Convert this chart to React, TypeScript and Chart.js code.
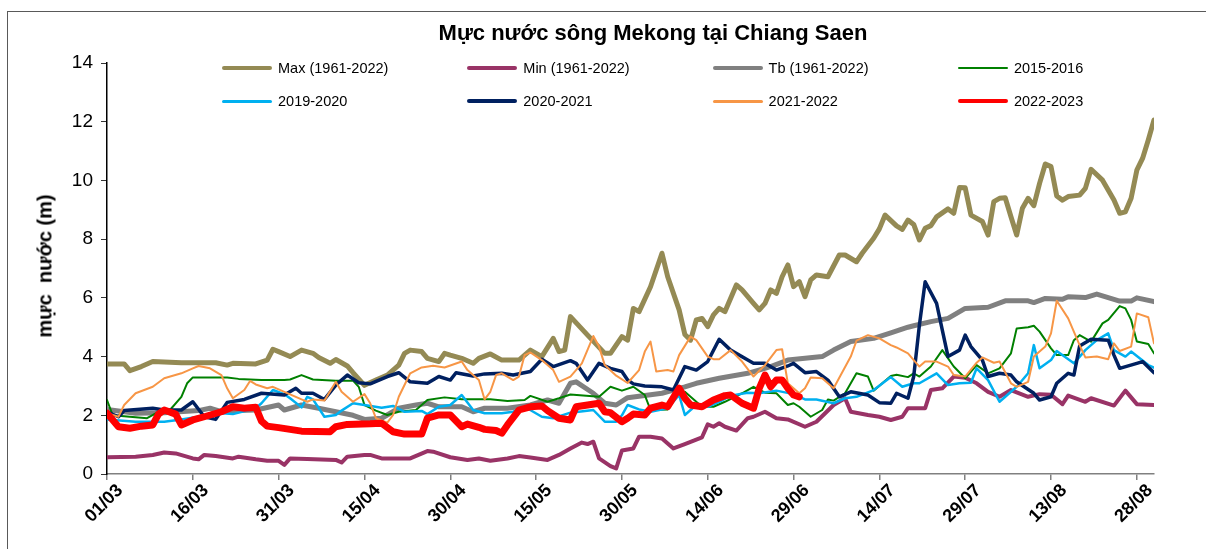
import React, { useEffect, useRef } from 'react';
import { Chart, registerables } from 'chart.js';

Chart.register(...registerables);

// x = day index counted from 01/03 (0 = 01/03, 183 = 31/08)
const tickLabels = ['01/03', '16/03', '31/03', '15/04', '30/04', '15/05', '30/05', '14/06', '29/06', '14/07', '29/07', '13/08', '28/08'];

const seriesNames = ['Max (1961-2022)', 'Min (1961-2022)', 'Tb (1961-2022)', '2015-2016', '2019-2020', '2020-2021', '2021-2022', '2022-2023'];
const seriesColors = ['#948A54', '#993366', '#808080', '#008000', '#00B0F0', '#002060', '#F79646', '#FF0000'];
const seriesWidths = [5, 4, 5, 2, 2.5, 3.5, 2, 7];
const legendWidths = [4, 4, 4, 2, 3, 4, 3, 4];

const maxDays = [0, 3, 4, 6, 8, 13, 19, 21, 22, 26, 28, 29, 30, 32, 34, 36, 37, 39, 40, 42, 43, 45, 47, 49, 51, 52, 53, 55, 56, 58, 59, 60, 62, 64, 65, 67, 69, 72, 74, 76, 78, 79, 80, 81, 84, 87, 88, 90, 91, 92, 93, 95, 97, 98, 100, 101, 102, 103, 104, 105, 106, 107, 108, 110, 111, 113, 114, 115, 116, 117, 118, 119, 120, 121, 122, 123, 124, 126, 128, 129, 131, 132, 134, 135, 136, 138, 139, 140, 141, 142, 143, 144, 145, 147, 148, 149, 150, 151, 153, 154, 155, 156, 157, 158, 159, 160, 161, 162, 163, 164, 165, 166, 167, 168, 170, 171, 172, 174, 176, 177, 178, 179, 180, 181, 182, 183];
const maxVals = [3.75, 3.75, 3.52, 3.66, 3.83, 3.79, 3.79, 3.71, 3.77, 3.75, 3.88, 4.25, 4.17, 4.0, 4.22, 4.11, 3.97, 3.77, 3.9, 3.68, 3.45, 3.02, 3.2, 3.37, 3.71, 4.11, 4.22, 4.17, 3.94, 3.83, 4.11, 4.05, 3.94, 3.77, 3.94, 4.09, 3.88, 3.88, 4.22, 4.0, 4.62, 4.17, 4.22, 5.36, 4.73, 4.11, 4.11, 4.68, 4.56, 5.64, 5.53, 6.38, 7.52, 6.72, 5.59, 4.75, 4.56, 5.25, 5.3, 5.02, 5.42, 5.64, 5.53, 6.44, 6.27, 5.81, 5.59, 5.81, 6.27, 6.15, 6.72, 7.12, 6.38, 6.55, 6.04, 6.61, 6.78, 6.72, 7.46, 7.46, 7.23, 7.52, 8.03, 8.35, 8.82, 8.45, 8.33, 8.65, 8.5, 7.97, 8.37, 8.46, 8.76, 9.03, 8.88, 9.76, 9.75, 8.82, 8.6, 8.14, 9.28, 9.39, 9.41, 8.76, 8.14, 9.05, 9.39, 9.14, 9.9, 10.56, 10.47, 9.47, 9.33, 9.45, 9.5, 9.73, 10.38, 10.01, 9.33, 8.88, 8.93, 9.39, 10.35, 10.75, 11.38, 12.06];

const minDays = [0, 5, 8, 10, 12, 15, 16, 17, 19, 22, 23, 26, 28, 30, 31, 32, 35, 40, 41, 42, 45, 46, 48, 53, 56, 57, 60, 63, 65, 67, 70, 72, 74, 77, 79, 81, 83, 84, 85, 86, 88, 89, 90, 92, 93, 95, 97, 99, 101, 104, 105, 106, 107, 108, 110, 112, 113, 115, 117, 119, 122, 124, 127, 129, 130, 133, 135, 137, 139, 140, 143, 144, 146, 148, 150, 152, 154, 156, 158, 161, 163, 165, 167, 168, 171, 172, 176, 178, 180, 183];
const minVals = [0.57, 0.59, 0.65, 0.73, 0.7, 0.53, 0.5, 0.65, 0.61, 0.53, 0.59, 0.5, 0.45, 0.45, 0.31, 0.53, 0.51, 0.48, 0.39, 0.59, 0.65, 0.65, 0.53, 0.53, 0.78, 0.76, 0.57, 0.48, 0.53, 0.45, 0.53, 0.61, 0.56, 0.48, 0.65, 0.87, 1.07, 1.02, 1.1, 0.53, 0.27, 0.19, 0.8, 0.87, 1.27, 1.27, 1.21, 0.87, 1.02, 1.25, 1.69, 1.61, 1.73, 1.61, 1.48, 1.9, 1.95, 2.12, 1.9, 1.86, 1.61, 1.78, 2.35, 2.58, 2.12, 2.01, 1.95, 1.84, 1.95, 2.24, 2.24, 2.86, 2.92, 3.32, 3.28, 3.09, 2.8, 2.63, 2.86, 2.63, 2.72, 2.7, 2.38, 2.67, 2.46, 2.58, 2.33, 2.84, 2.38, 2.35];

const tbDays = [0, 5, 10, 16, 18, 20, 23, 26, 30, 31, 34, 37, 40, 43, 45, 48, 51, 54, 56, 58, 62, 64, 66, 70, 74, 77, 79, 81, 82, 85, 87, 89, 91, 93, 97, 101, 103, 107, 112, 116, 119, 125, 127, 130, 134, 137, 140, 141, 144, 147, 150, 154, 157, 161, 162, 164, 167, 168, 171, 173, 177, 179, 180, 183];
const tbVals = [2.2, 2.07, 2.09, 2.16, 2.24, 2.12, 2.16, 2.18, 2.35, 2.18, 2.35, 2.24, 2.12, 2.0, 1.86, 1.9, 2.24, 2.35, 2.41, 2.29, 2.29, 2.12, 2.24, 2.24, 2.35, 2.52, 2.41, 3.09, 3.14, 2.75, 2.41, 2.35, 2.6, 2.65, 2.75, 2.97, 3.09, 3.26, 3.43, 3.66, 3.88, 4.0, 4.22, 4.51, 4.62, 4.81, 5.0, 5.05, 5.19, 5.3, 5.64, 5.68, 5.9, 5.9, 5.84, 5.98, 5.95, 6.04, 6.01, 6.13, 5.89, 5.89, 6.0, 5.87];

const y2015Days = [0, 1, 5, 7, 9, 11, 13, 14, 15, 21, 23, 27, 31, 32, 34, 36, 40, 43, 44, 45, 47, 49, 51, 54, 56, 59, 62, 67, 70, 73, 74, 77, 79, 81, 86, 88, 90, 92, 94, 95, 98, 100, 101, 104, 106, 108, 111, 113, 115, 117, 119, 120, 121, 123, 125, 126, 127, 129, 131, 133, 134, 137, 138, 140, 141, 142, 144, 146, 148, 150, 152, 154, 156, 158, 159, 161, 162, 163, 165, 166, 168, 169, 170, 172, 174, 175, 177, 178, 179, 180, 182, 183];
const y2015Vals = [2.52, 2.0, 1.93, 1.9, 2.12, 2.18, 2.63, 3.09, 3.29, 3.29, 3.24, 3.2, 3.2, 3.22, 3.37, 3.22, 3.18, 3.18, 2.97, 2.35, 2.16, 2.01, 2.12, 2.18, 2.52, 2.61, 2.55, 2.55, 2.49, 2.52, 2.66, 2.46, 2.58, 2.71, 2.63, 2.97, 2.84, 2.97, 2.69, 2.18, 2.2, 2.75, 2.8, 2.29, 2.29, 2.46, 2.75, 2.97, 2.77, 2.75, 2.35, 2.41, 2.29, 1.95, 2.18, 2.54, 2.5, 2.75, 3.43, 3.32, 2.84, 3.34, 3.38, 3.3, 3.43, 3.32, 3.66, 4.22, 3.66, 3.26, 3.71, 3.43, 3.6, 4.11, 4.96, 5.0, 5.05, 4.85, 4.28, 4.05, 4.05, 4.56, 4.73, 4.51, 5.13, 5.25, 5.72, 5.64, 5.25, 4.51, 4.43, 4.11];

const y2019Days = [0, 5, 10, 13, 16, 19, 22, 26, 27, 29, 31, 32, 34, 35, 36, 38, 40, 41, 43, 45, 48, 50, 52, 55, 56, 58, 60, 62, 64, 66, 69, 71, 73, 76, 78, 81, 85, 87, 89, 90, 91, 93, 95, 98, 100, 101, 103, 105, 107, 109, 112, 114, 117, 120, 122, 124, 127, 129, 131, 134, 137, 139, 141, 142, 145, 147, 149, 151, 152, 154, 156, 159, 161, 162, 163, 165, 166, 169, 171, 173, 175, 176, 178, 179, 182, 183];
const y2019Vals = [1.86, 1.78, 1.78, 1.86, 1.95, 2.09, 2.04, 2.24, 2.41, 2.86, 2.72, 2.58, 2.27, 2.63, 2.54, 1.95, 2.01, 2.16, 2.41, 2.35, 2.26, 2.32, 2.12, 2.15, 2.04, 2.29, 2.35, 2.69, 2.18, 2.07, 2.07, 2.12, 2.29, 1.95, 1.9, 2.09, 2.18, 1.78, 1.78, 2.0, 2.35, 2.2, 2.12, 2.24, 2.69, 2.01, 2.35, 2.29, 2.46, 2.67, 2.77, 2.75, 2.84, 2.72, 2.54, 2.54, 2.41, 2.58, 2.63, 2.86, 3.3, 2.97, 3.09, 3.09, 3.43, 3.03, 3.09, 3.11, 3.6, 3.2, 2.46, 2.97, 3.43, 4.39, 3.6, 3.88, 4.19, 3.77, 4.22, 4.56, 4.79, 4.22, 4.0, 4.17, 3.71, 3.62];

const y2020Days = [0, 2, 3, 8, 10, 13, 15, 17, 19, 21, 24, 27, 31, 33, 34, 36, 38, 40, 42, 44, 46, 49, 51, 53, 56, 58, 60, 61, 64, 66, 69, 71, 74, 76, 78, 81, 82, 84, 86, 88, 90, 91, 92, 94, 97, 99, 101, 103, 105, 107, 109, 112, 113, 115, 117, 119, 120, 122, 124, 126, 128, 130, 133, 135, 137, 138, 140, 141, 142, 143, 145, 146, 147, 149, 150, 151, 153, 154, 156, 158, 159, 162, 163, 165, 166, 168, 169, 170, 172, 175, 176, 177, 180, 181, 183];
const y2020Vals = [2.12, 1.95, 2.16, 2.24, 2.18, 2.18, 2.46, 1.95, 1.86, 2.44, 2.54, 2.75, 2.69, 2.92, 2.75, 2.75, 2.54, 3.03, 3.37, 3.11, 3.07, 3.32, 3.45, 3.14, 3.09, 3.32, 3.2, 3.45, 3.34, 3.41, 3.43, 3.37, 3.49, 3.91, 3.66, 3.86, 3.77, 3.2, 3.77, 3.6, 3.49, 3.2, 3.07, 3.0, 2.97, 2.86, 3.66, 3.54, 3.83, 4.59, 4.22, 3.88, 3.77, 3.77, 3.54, 3.68, 3.77, 3.45, 3.49, 3.2, 2.63, 2.8, 2.69, 2.43, 2.41, 2.75, 2.58, 3.32, 5.08, 6.55, 5.81, 4.9, 4.0, 4.22, 4.73, 4.34, 3.88, 3.32, 3.43, 3.37, 3.14, 2.75, 2.52, 2.63, 3.09, 3.43, 3.37, 4.36, 4.59, 4.56, 4.05, 3.6, 3.77, 3.83, 3.45];

const y2021Days = [0, 2, 3, 5, 8, 10, 13, 15, 16, 18, 20, 21, 22, 24, 25, 26, 28, 29, 31, 34, 35, 36, 38, 40, 41, 43, 45, 46, 47, 49, 50, 51, 53, 55, 57, 59, 62, 63, 65, 66, 67, 68, 69, 71, 72, 73, 74, 76, 78, 79, 81, 83, 85, 86, 87, 89, 91, 93, 94, 95, 96, 98, 99, 100, 102, 103, 105, 106, 107, 109, 111, 113, 115, 117, 118, 119, 121, 122, 123, 125, 127, 130, 131, 133, 135, 137, 138, 140, 141, 142, 143, 145, 147, 148, 150, 152, 153, 155, 156, 158, 159, 161, 162, 164, 165, 166, 168, 170, 171, 173, 175, 176, 177, 179, 180, 182, 183];
const y2021Vals = [2.07, 1.95, 2.35, 2.75, 2.97, 3.26, 3.43, 3.6, 3.68, 3.6, 3.37, 2.92, 2.58, 2.86, 3.17, 3.05, 2.92, 2.97, 2.8, 2.54, 2.46, 2.54, 2.5, 3.14, 2.8, 2.46, 2.72, 2.41, 1.9, 1.75, 2.01, 2.63, 3.43, 3.63, 3.69, 3.63, 3.83, 3.54, 3.2, 2.54, 2.8, 3.37, 3.43, 3.2, 3.32, 4.05, 4.14, 3.88, 3.54, 3.14, 3.32, 3.77, 4.7, 4.34, 3.71, 3.35, 3.1, 3.54, 4.17, 4.51, 3.49, 3.54, 3.49, 4.05, 4.68, 4.56, 4.0, 3.91, 3.91, 4.22, 3.83, 3.32, 3.71, 4.22, 4.25, 3.09, 2.75, 2.92, 3.29, 3.26, 2.92, 4.0, 4.54, 4.73, 4.62, 4.39, 4.31, 4.11, 3.88, 3.66, 3.83, 3.83, 3.66, 3.37, 3.32, 3.79, 3.97, 3.79, 3.83, 3.09, 2.97, 3.14, 4.0, 4.34, 4.79, 5.9, 5.3, 4.39, 3.97, 4.0, 3.91, 4.45, 4.19, 4.34, 5.47, 5.34, 4.45];

const y2022Days = [0, 1, 2, 4, 6, 8, 9, 10, 12, 13, 15, 17, 20, 22, 24, 26, 27, 28, 30, 34, 39, 40, 42, 46, 48, 50, 52, 55, 56, 58, 60, 62, 63, 65, 66, 68, 69, 70, 72, 74, 76, 77, 79, 81, 82, 84, 86, 87, 88, 90, 91, 92, 94, 95, 97, 98, 100, 101, 102, 104, 106, 108, 109, 111, 113, 114, 115, 116, 117, 118, 119, 120, 121];
const y2022Vals = [2.07, 1.84, 1.61, 1.56, 1.63, 1.67, 2.04, 2.18, 2.04, 1.67, 1.84, 1.95, 2.12, 2.29, 2.24, 2.27, 1.8, 1.63, 1.58, 1.46, 1.44, 1.61, 1.69, 1.71, 1.73, 1.44, 1.36, 1.36, 1.9, 2.01, 2.01, 1.61, 1.7, 1.59, 1.52, 1.48, 1.39, 1.67, 2.18, 2.29, 2.32, 2.16, 1.9, 1.84, 2.29, 2.35, 2.41, 2.12, 2.09, 1.78, 1.9, 2.04, 2.01, 2.24, 2.35, 2.29, 2.92, 2.58, 2.35, 2.29, 2.52, 2.67, 2.69, 2.41, 2.24, 2.92, 3.37, 2.97, 3.2, 3.2, 2.92, 2.69, 2.63];

const seriesDays = [maxDays, minDays, tbDays, y2015Days, y2019Days, y2020Days, y2021Days, y2022Days];
const seriesVals = [maxVals, minVals, tbVals, y2015Vals, y2019Vals, y2020Vals, y2021Vals, y2022Vals];

const FONT = "'Liberation Sans', Arial, sans-serif";

export default function App() {
  const canvasRef = useRef<HTMLCanvasElement | null>(null);

  useEffect(() => {
    if (!canvasRef.current) return;
    const datasets = seriesNames.map((name, i) => ({
      label: name,
      data: seriesDays[i].map((d, k) => ({ x: d, y: seriesVals[i][k] })),
      borderColor: seriesColors[i],
      backgroundColor: seriesColors[i],
      borderWidth: seriesWidths[i],
      pointRadius: 0,
      tension: 0,
      fill: false,
      borderJoinStyle: 'round' as const,
      borderCapStyle: 'round' as const,
      order: seriesNames.length - i,
    }));
    const chart = new Chart(canvasRef.current, {
      type: 'line',
      data: { datasets },
      options: {
        animation: false,
        responsive: false,
        maintainAspectRatio: false,
        layout: { padding: { left: 57, right: 52, top: 63, bottom: 15 } },
        plugins: {
          legend: { display: false },
          title: { display: false },
          tooltip: { enabled: false },
        },
        scales: {
          x: {
            type: 'linear',
            min: 0,
            max: 183,
            afterFit: (s: any) => { s.height = 60; },
            afterBuildTicks: (s: any) => { s.ticks = tickLabels.map((_, i) => ({ value: i * 15 })); },
            ticks: {
              autoSkip: false,
              maxRotation: 45,
              minRotation: 45,
              padding: 0,
              labelOffset: 13,
              color: '#000',
              font: { family: FONT, size: 18, weight: 'bold' },
              callback: (v: any) => tickLabels[Math.round(Number(v) / 15)] ?? '',
            },
            grid: { display: true, drawOnChartArea: false, drawTicks: true, tickLength: 6, color: '#808080', lineWidth: 1.5 },
            border: { display: true, color: '#808080', width: 1.5 },
          },
          y: {
            min: 0,
            max: 14,
            afterFit: (s: any) => { s.width = 50; },
            ticks: { stepSize: 2, padding: 8, color: '#000', font: { family: FONT, size: 19 } },
            grid: { display: true, drawOnChartArea: false, drawTicks: true, tickLength: 6, color: '#333', lineWidth: 1 },
            border: { display: true, color: '#000', width: 1.5 },
          },
        },
      },
    });
    return () => chart.destroy();
  }, []);

  return (
    <div style={{ position: 'fixed', left: 0, top: 0, width: 1206, height: 549, background: '#fff', fontFamily: FONT, overflow: 'hidden' }}>
      <div style={{ position: 'absolute', left: 7, top: 11, width: 1220, height: 560, borderTop: '1px solid #595959', borderLeft: '1px solid #595959' }} />
      <canvas ref={canvasRef} width={1206} height={549} style={{ position: 'absolute', left: 0, top: 0, width: 1206, height: 549 }} />
      <div style={{ position: 'absolute', left: 653, top: 33, transform: 'translate(-50%, -50%)', fontSize: 22, fontWeight: 'bold', whiteSpace: 'nowrap', color: '#000' }}>
        Mực nước sông Mekong tại Chiang Saen
      </div>
      <div style={{ position: 'absolute', left: 45, top: 266, transform: 'translate(-50%, -50%) rotate(-90deg)', fontSize: 20, fontWeight: 'bold', whiteSpace: 'pre', color: '#000' }}>
        {'mực  nước (m)'}
      </div>
      {seriesNames.map((name, i) => {
        const row = Math.floor(i / 4);
        const col = i % 4;
        const x = 222 + col * 245.3;
        const y = 68 + row * 33;
        return (
          <React.Fragment key={name}>
            <div style={{ position: 'absolute', left: x, top: y - legendWidths[i] / 2, width: 50, height: legendWidths[i], background: seriesColors[i], borderRadius: 2 }} />
            <div style={{ position: 'absolute', left: x + 56, top: y, transform: 'translateY(-50%)', fontSize: 14.5, whiteSpace: 'nowrap', color: '#000' }}>{name}</div>
          </React.Fragment>
        );
      })}
    </div>
  );
}
